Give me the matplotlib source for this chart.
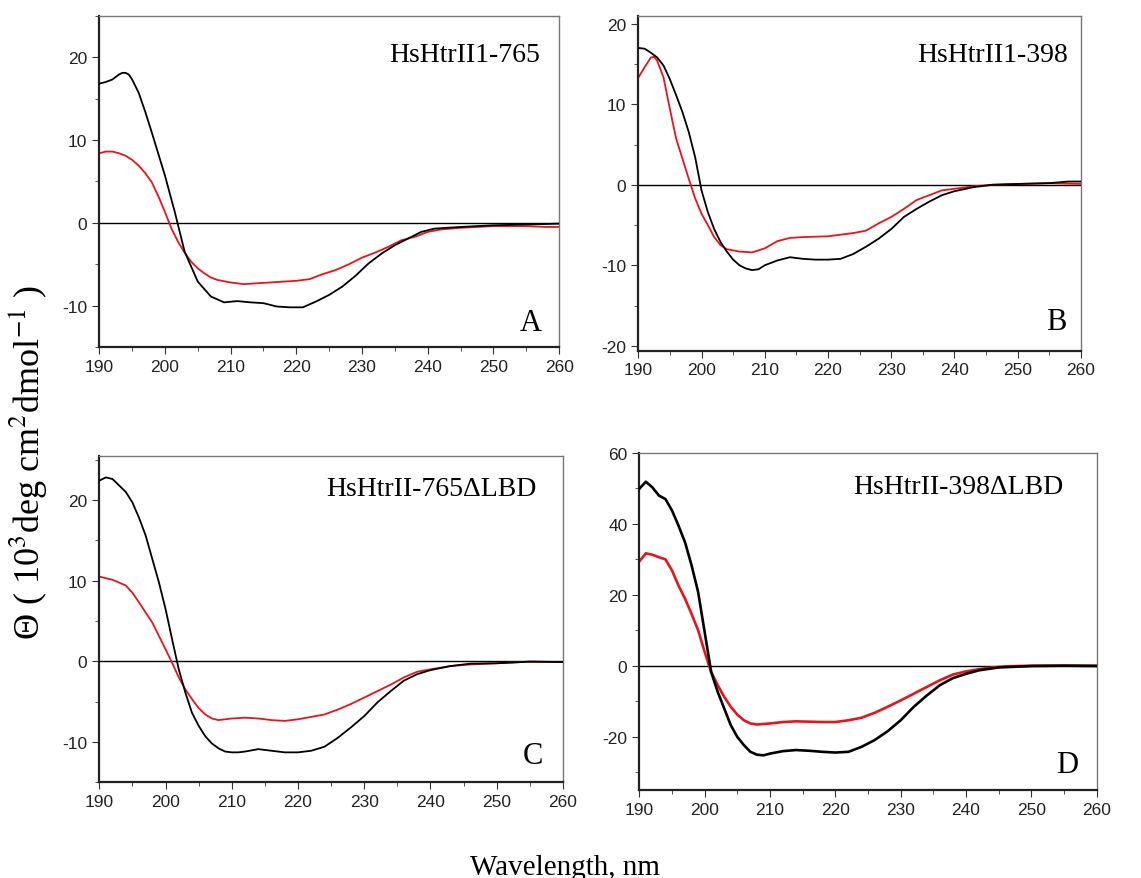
import matplotlib
matplotlib.use("Agg")
import matplotlib.pyplot as plt
from matplotlib.ticker import MultipleLocator

plt.rcParams['mathtext.fontset'] = 'stix'
plt.rcParams['axes.unicode_minus'] = False
plt.rcParams['font.family'] = ['Liberation Sans', 'DejaVu Sans']

# ---- data (wavelength nm, theta x10^3) ----
a_black_x = [190, 191, 192, 193, 193.5, 194, 194.5, 195, 196, 197, 198, 199, 200, 201.5, 203, 205, 207, 209,
             211, 213, 215, 217, 219, 221, 223, 225, 227, 229, 231, 233, 235, 237, 239, 241, 245, 250, 255, 260]
a_black_y = [16.8, 17.0, 17.3, 17.9, 18.1, 18.1, 17.9, 17.3, 15.7, 13.4, 10.9, 8.3, 5.7, 1.3, -3.5, -7.1,
             -8.9, -9.6, -9.45, -9.6, -9.7, -10.1, -10.2, -10.2, -9.5, -8.7, -7.7, -6.4, -4.9, -3.7, -2.7,
             -1.9, -1.1, -0.7, -0.5, -0.3, -0.2, -0.1]
a_red_x = [190, 191, 192, 193, 194, 195, 196, 197, 198, 199, 200, 201, 202, 203, 204, 205, 206, 207, 208,
           210, 212, 216, 220, 222, 224, 226, 228, 230, 232, 234, 236, 238, 240, 242, 245, 250, 255, 258, 260]
a_red_y = [8.4, 8.6, 8.6, 8.4, 8.1, 7.6, 6.9, 6.0, 4.9, 3.2, 1.3, -0.7, -2.3, -3.6, -4.7, -5.5, -6.1, -6.6,
           -6.9, -7.2, -7.4, -7.2, -7.0, -6.8, -6.2, -5.7, -5.0, -4.2, -3.6, -2.9, -2.1, -1.7, -1.1, -0.8,
           -0.6, -0.4, -0.4, -0.5, -0.5]

b_black_x = [190, 191, 192, 193, 194, 195, 196, 197, 198, 199, 200, 201, 202, 203, 204, 205, 206, 207, 208,
             209, 210, 212, 214, 216, 218, 220, 222, 224, 226, 228, 230, 232, 234, 236, 238, 240, 243, 246,
             250, 255, 258, 260]
b_black_y = [17.0, 16.9, 16.4, 15.8, 14.8, 13.1, 11.1, 9.0, 6.5, 3.4, -0.7, -3.4, -5.5, -7.1, -8.3, -9.3,
             -10.0, -10.4, -10.6, -10.5, -10.0, -9.4, -9.0, -9.2, -9.3, -9.3, -9.2, -8.6, -7.7, -6.7, -5.5,
             -4.0, -3.0, -2.1, -1.3, -0.8, -0.3, 0.0, 0.1, 0.2, 0.4, 0.4]
b_red_x = [190, 191, 192, 192.5, 193, 194, 195, 196, 197, 198, 199, 200, 201, 202, 203, 204, 206, 208, 210,
           212, 214, 216, 220, 224, 226, 228, 230, 232, 234, 236, 238, 240, 243, 246, 250, 255, 260]
b_red_y = [13.3, 14.6, 15.8, 15.9, 15.4, 13.3, 9.4, 5.7, 3.2, 0.7, -1.7, -3.6, -5.0, -6.5, -7.5, -8.0,
           -8.3, -8.4, -7.9, -7.0, -6.6, -6.5, -6.4, -6.0, -5.7, -4.8, -4.0, -3.0, -1.9, -1.3, -0.7, -0.5,
           -0.2, 0.0, 0.1, 0.2, 0.1]

c_black_x = [190, 191, 192, 193, 194, 195, 196, 197, 198, 199, 200, 201, 202, 203, 204, 205, 206, 207, 208,
             209, 210, 211, 212, 214, 216, 218, 220, 222, 224, 226, 228, 230, 232, 234, 236, 238, 240, 243,
             246, 250, 255, 260]
c_black_y = [22.4, 22.8, 22.6, 21.8, 21.0, 19.7, 17.8, 15.6, 12.7, 9.8, 6.5, 2.7, -1.0, -3.9, -6.4, -8.0,
             -9.3, -10.2, -10.8, -11.2, -11.3, -11.3, -11.2, -10.9, -11.1, -11.3, -11.3, -11.1, -10.6, -9.5,
             -8.2, -6.8, -5.1, -3.7, -2.4, -1.6, -1.1, -0.6, -0.3, -0.25, -0.05, -0.1]
c_red_x = [190, 192, 194, 195, 196, 198, 200, 201, 202, 203, 204, 205, 206, 207, 208, 210, 212, 214, 216,
           218, 220, 222, 224, 226, 228, 230, 232, 234, 236, 238, 240, 243, 246, 250, 255, 260]
c_red_y = [10.5, 10.1, 9.4, 8.5, 7.3, 4.8, 1.5, -0.2, -2.0, -3.5, -4.7, -5.8, -6.6, -7.1, -7.3, -7.1, -7.0,
           -7.1, -7.3, -7.4, -7.2, -6.9, -6.6, -6.0, -5.3, -4.5, -3.7, -2.9, -2.0, -1.3, -1.0, -0.6, -0.4,
           -0.25, -0.05, -0.1]

d_black_x = [190, 191, 192, 193, 194, 195, 196, 197, 198, 199, 200, 201, 202, 203, 204, 205, 206, 207, 208,
             209, 210, 212, 214, 216, 218, 220, 222, 224, 226, 228, 230, 232, 234, 236, 238, 240, 242, 245,
             250, 255, 260]
d_black_y = [49.9, 51.9, 50.3, 48.0, 47.0, 43.8, 39.5, 34.8, 28.3, 20.8, 9.5, -1.8, -7.4, -12.1, -16.8,
             -20.1, -22.4, -24.3, -25.1, -25.3, -24.8, -24.1, -23.8, -24.0, -24.3, -24.5, -24.3, -22.9, -21.0,
             -18.5, -15.4, -11.6, -8.4, -5.5, -3.5, -2.3, -1.3, -0.5, -0.1, 0.0, -0.1]
d_red_x = [190, 191, 192, 193, 194, 195, 196, 197, 198, 199, 200, 201, 202, 203, 204, 205, 206, 207, 208,
           210, 212, 214, 216, 218, 220, 222, 224, 226, 228, 230, 232, 234, 236, 238, 240, 243, 246, 250, 260]
d_red_y = [29.4, 31.7, 31.3, 30.6, 30.0, 26.9, 22.6, 18.9, 14.6, 10.0, 3.9, -1.8, -5.5, -8.8, -11.6, -13.8,
           -15.4, -16.3, -16.6, -16.3, -15.9, -15.7, -15.8, -15.9, -15.9, -15.4, -14.7, -13.3, -11.6, -9.8,
           -7.9, -6.0, -4.1, -2.5, -1.6, -0.7, -0.2, 0.0, 0.0]

names = ["HsHtrII1-765", "HsHtrII1-398", "HsHtrII-765\u0394LBD", "HsHtrII-398\u0394LBD"]
letters = ["A", "B", "C", "D"]


def style_axes(ax, ylim, ymajor, yminor):
    ax.set_xlim(190, 260)
    ax.set_ylim(*ylim)
    ax.xaxis.set_major_locator(MultipleLocator(10))
    ax.xaxis.set_minor_locator(MultipleLocator(5))
    ax.yaxis.set_major_locator(MultipleLocator(ymajor))
    ax.yaxis.set_minor_locator(MultipleLocator(yminor))
    ax.tick_params(which='both', direction='out', top=False, right=False,
                   labelsize=12.5, colors='#333333', labelcolor='#222222')
    ax.tick_params(which='major', length=5)
    ax.tick_params(which='minor', length=3)
    for s in ['left', 'bottom']:
        ax.spines[s].set_linewidth(1.6)
        ax.spines[s].set_color('#222222')
    for s in ['top', 'right']:
        ax.spines[s].set_linewidth(1.0)
        ax.spines[s].set_color('#777777')
    ax.axhline(0, color='black', lw=1.0, zorder=1)


fig = plt.figure(figsize=(11.41, 8.79), dpi=100)

# rect, series, ylim, y ticks, line width, name pos, letter pos
panels = [
    ([0.087, 0.604, 0.403, 0.377], a_black_x, a_black_y, a_red_x, a_red_y, (-15, 25), 10, 5, 1.3,
     (0.958, 0.92), (0.962, 0.03)),
    ([0.5594, 0.600, 0.388, 0.381], b_black_x, b_black_y, b_red_x, b_red_y, (-20.6, 21), 10, 5, 1.3,
     (0.97, 0.92), (0.968, 0.045)),
    ([0.087, 0.109, 0.4064, 0.3715], c_black_x, c_black_y, c_red_x, c_red_y, (-15, 25.5), 10, 5, 1.3,
     (0.944, 0.939), (0.957, 0.036)),
    ([0.5603, 0.1004, 0.4009, 0.3831], d_black_x, d_black_y, d_red_x, d_red_y, (-35, 60), 20, 10, 1.9,
     (0.927, 0.938), (0.96, 0.032)),
]

for i, (rect, bx, by, rx, ry, ylim, ymaj, ymin, lw, npos, lpos) in enumerate(panels):
    ax = fig.add_axes(rect)
    ax.plot(bx, by, color='black', lw=lw, zorder=3)
    ax.plot(rx, ry, color='#e8141c', lw=lw, zorder=2)
    style_axes(ax, ylim, ymaj, ymin)
    ax.text(npos[0], npos[1], names[i], transform=ax.transAxes, ha='right', va='top',
            fontsize=20, family='Liberation Serif')
    ax.text(lpos[0], lpos[1], letters[i], transform=ax.transAxes, ha='right', va='bottom',
            fontsize=22, family='Liberation Serif')

fig.text(0.024, 0.474, '\u0398 ( 10$^3$deg cm$^2$dmol$^{-1}$ )', rotation=90,
         ha='center', va='center', fontsize=26, family='Liberation Serif')
fig.text(0.495, 0.013, 'Wavelength, nm', ha='center', va='center',
         fontsize=21, family='Liberation Serif')

fig.savefig('out.png', dpi=100)
